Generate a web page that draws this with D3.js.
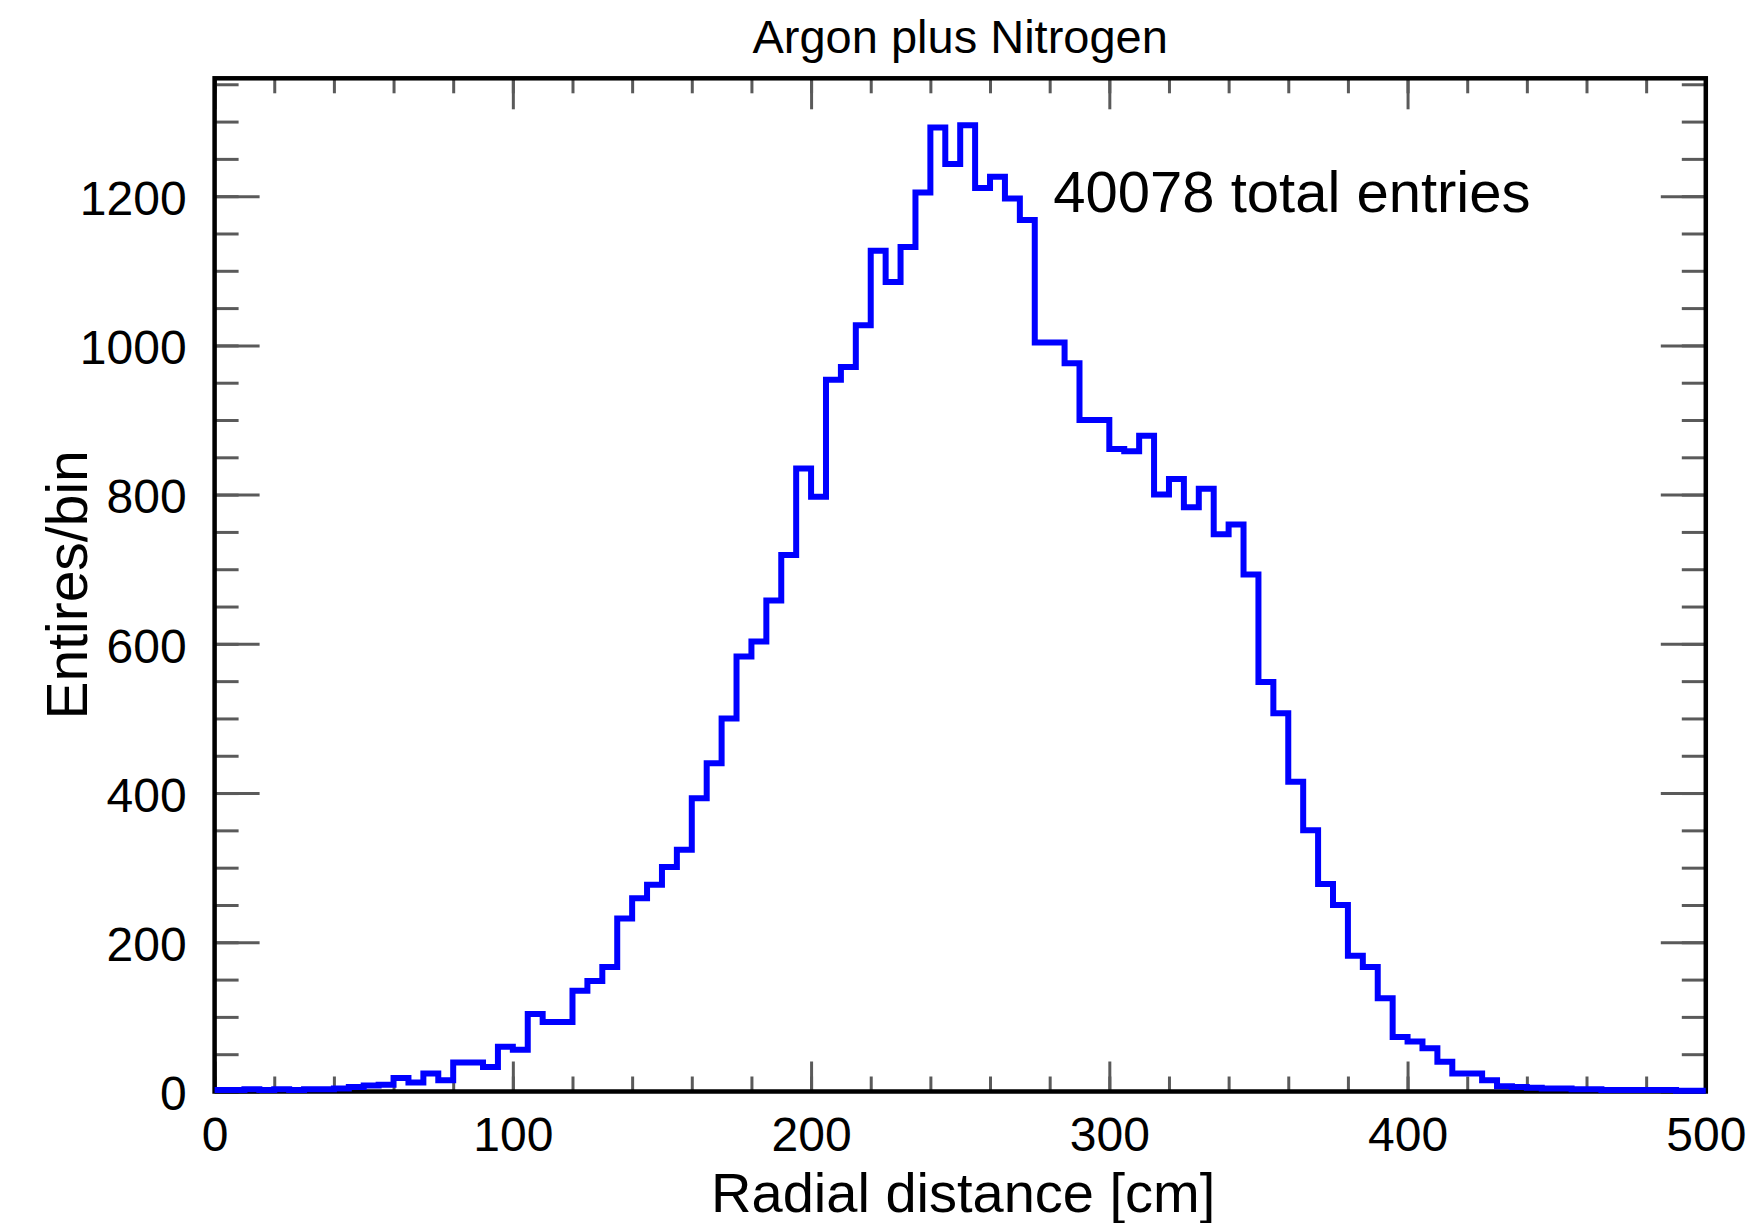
<!DOCTYPE html>
<html>
<head>
<meta charset="utf-8">
<script src="https://cdn.jsdelivr.net/npm/d3@7"></script>
<style>
  body { margin: 0; background: #fff; }
  text { font-family: "Liberation Sans", Arial, Helvetica, sans-serif; fill: #000; }
</style>
</head>
<body>
<svg id="hist_canvas" width="1762" height="1223"></svg>
<script>
// Histogram: 100 bins of 5 cm between 0 and 500 cm
const binWidth = 5;
const binStarts = d3.range(0, 500, binWidth);
const binCounts = [
    2, 2, 3, 2, 3, 2, 3, 3, 4, 6,
    8, 9, 18, 12, 24, 15, 39, 39, 33, 60,
    56, 104, 93, 93, 135, 148, 167, 232, 259, 277,
    301, 324, 393, 440, 500, 583, 603, 658, 719, 835,
    797, 954, 971, 1027, 1127, 1085, 1132, 1205, 1292, 1243,
    1295, 1211, 1226, 1197, 1168, 1004, 1004, 976, 900, 900,
    861, 858, 879, 800, 821, 783, 808, 747, 760, 693,
    549, 507, 415, 350, 278, 250, 182, 167, 125, 73,
    67, 58, 40, 24, 24, 15, 7, 6, 5, 4,
    4, 3, 3, 2, 2, 2, 2, 2, 1, 1
];

const xMajorTicks = [0, 100, 200, 300, 400, 500];
const xMinorTicks = d3.range(0, 501, 20);
const yMajorTicks = [0, 200, 400, 600, 800, 1000, 1200];
const yMinorTicks = d3.range(0, 1351, 50);

const titleText = "Argon plus Nitrogen";
const xTitle = "Radial distance [cm]";
const yTitle = "Entires/bin";
const noteText = "40078 total entries";

function drawHistogram() {
    const svg = d3.select("#hist_canvas");

    const left = 214.6, right = 1705.8, top = 78.3, bottom = 1091.5;

    const x = d3.scaleLinear().domain([0, 500]).range([left, right]);
    const y = d3.scaleLinear().domain([0, 1358]).range([bottom, top]);

    //ticks, drawn inward from the frame
    function styleAxis(g) {
        g.select(".domain").remove();
        g.selectAll(".tick line").attr("stroke", "#5a5a5a").attr("stroke-width", 3);
        g.selectAll("text").style("font-size", "48px").attr("fill", "#000");
    }

    svg.append("g")
        .attr("transform", `translate(0,${bottom})`)
        .call(d3.axisBottom(x).tickValues(xMinorTicks).tickSize(-15).tickFormat(""))
        .call(styleAxis);
    svg.append("g")
        .attr("transform", `translate(0,${bottom})`)
        .call(d3.axisBottom(x).tickValues(xMajorTicks).tickSize(-30).tickPadding(25).tickFormat(d3.format("d")))
        .call(styleAxis);
    svg.append("g")
        .attr("transform", `translate(0,${top})`)
        .call(d3.axisTop(x).tickValues(xMinorTicks).tickSize(-15).tickFormat(""))
        .call(styleAxis);
    svg.append("g")
        .attr("transform", `translate(0,${top})`)
        .call(d3.axisTop(x).tickValues(xMajorTicks).tickSize(-31).tickFormat(""))
        .call(styleAxis);

    svg.append("g")
        .attr("transform", `translate(${left},0)`)
        .call(d3.axisLeft(y).tickValues(yMinorTicks).tickSize(-24).tickFormat(""))
        .call(styleAxis);
    const yAxis = svg.append("g")
        .attr("transform", `translate(${left},0)`)
        .call(d3.axisLeft(y).tickValues(yMajorTicks).tickSize(-45).tickPadding(28).tickFormat(d3.format("d")))
        .call(styleAxis);
    yAxis.selectAll("text").attr("dy", "0.38em");
    svg.append("g")
        .attr("transform", `translate(${right},0)`)
        .call(d3.axisRight(y).tickValues(yMinorTicks).tickSize(-24).tickFormat(""))
        .call(styleAxis);
    svg.append("g")
        .attr("transform", `translate(${right},0)`)
        .call(d3.axisRight(y).tickValues(yMajorTicks).tickSize(-45).tickFormat(""))
        .call(styleAxis);

    //frame
    svg.append("rect")
        .attr("x", left).attr("y", top)
        .attr("width", right - left).attr("height", bottom - top)
        .attr("fill", "none")
        .attr("stroke", "#000")
        .attr("stroke-width", 4.5);

    //histogram outline
    const steps = binStarts.map((s, i) => [s, binCounts[i]]);
    steps.push([binStarts[binStarts.length - 1] + binWidth, binCounts[binCounts.length - 1]]);

    const line = d3.line()
        .x(d => x(d[0]))
        .y(d => y(d[1]))
        .curve(d3.curveStepAfter);

    svg.append("path")
        .datum(steps)
        .attr("d", line)
        .attr("fill", "none")
        .attr("stroke", "#0000ff")
        .attr("stroke-width", 6)
        .attr("stroke-linejoin", "miter");

    //texts
    svg.append("text")
        .attr("x", (left + right) / 2)
        .attr("y", 53)
        .attr("text-anchor", "middle")
        .style("font-size", "47px")
        .text(titleText);

    svg.append("text")
        .attr("x", x(281.2))
        .attr("y", y(1178.6))
        .style("font-size", "58px")
        .text(noteText);

    svg.append("text")
        .attr("x", (left + right) / 2 + 3)
        .attr("y", 1211.5)
        .attr("text-anchor", "middle")
        .style("font-size", "56px")
        .text(xTitle);

    svg.append("text")
        .attr("transform", `translate(87,${(top + bottom) / 2}) rotate(-90)`)
        .attr("text-anchor", "middle")
        .style("font-size", "57px")
        .text(yTitle);
}

drawHistogram();
</script>
</body>
</html>
